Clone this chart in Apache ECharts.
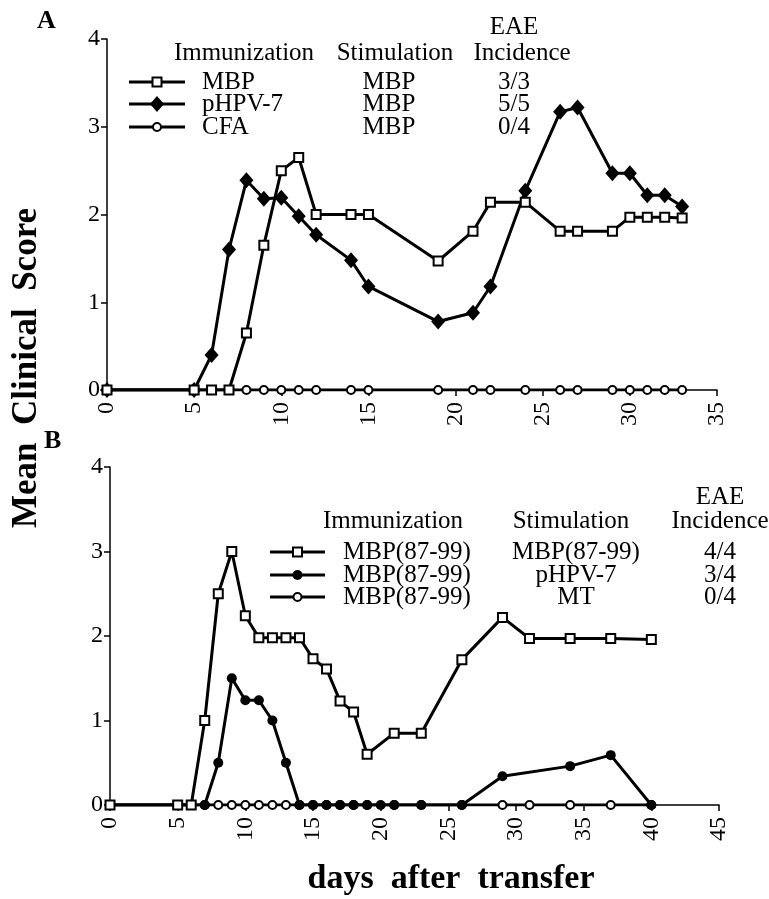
<!DOCTYPE html>
<html>
<head>
<meta charset="utf-8">
<script src="https://cdn.jsdelivr.net/npm/echarts@6/dist/echarts.min.js"></script>
<style>
html,body{margin:0;padding:0;background:#fff;}
#chart{width:769px;height:899px;}
</style>
</head>
<body>
<div id="chart"></div>
<script>
// ---------- Panel A data ----------
const daysA = [0,5,6,7,8,9,10,11,12,14,15,19,21,22,24,26,27,29,30,31,32,33];
const mbpA  = [0,0,0,0,0.65,1.65,2.5,2.65,2.0,2.0,2.0,1.47,1.81,2.14,2.14,1.81,1.81,1.81,1.97,1.97,1.97,1.96];
const hpvA  = [0,0,0.4,1.6,2.39,2.18,2.19,1.98,1.77,1.48,1.18,0.78,0.88,1.18,2.27,3.17,3.22,2.47,2.47,2.22,2.22,2.09];
const cfaA  = [0,0,0,0,0,0,0,0,0,0,0,0,0,0,0,0,0,0,0,0,0,0];

// ---------- Panel B data ----------
const daysB_mbp = [0,5,6,7,8,9,10,11,12,13,14,15,16,17,18,19,21,23,26,29,31,34,37,40];
const mbpB      = [0,0,0,1.0,2.5,3.0,2.24,1.98,1.98,1.98,1.98,1.73,1.61,1.23,1.10,0.60,0.85,0.85,1.72,2.22,1.97,1.97,1.97,1.96];
const daysB_hpv = [0,5,6,7,8,9,10,11,12,13,14,15,16,17,18,19,20,21,23,26,29,34,37,40];
const hpvB      = [0,0,0,0,0.5,1.5,1.24,1.24,1.0,0.5,0,0,0,0,0,0,0,0,0,0,0.34,0.46,0.59,0];
const daysB_mt  = [0,5,6,7,8,9,10,11,12,13,14,15,16,17,18,19,21,23,26,29,31,34,37,40];
const mtB       = [0,0,0,0,0,0,0,0,0,0,0,0,0,0,0,0,0,0,0,0,0,0,0,0];

// ---------- Axis ticks ----------
const xTicksA = [0,5,10,15,20,25,30,35];
const xTicksB = [0,5,10,15,20,25,30,35,40,45];
const yTicks  = [0,1,2,3,4];

// ---------- Legend texts ----------
const headerCols = ['Immunization','Stimulation','Incidence'];
const headerTop = 'EAE';
const immA  = ['MBP','pHPV-7','CFA'];
const stimA = ['MBP','MBP','MBP'];
const incA  = ['3/3','5/5','0/4'];
const immB  = ['MBP(87-99)','MBP(87-99)','MBP(87-99)'];
const stimB = ['MBP(87-99)','pHPV-7','MT'];
const incB  = ['4/4','3/4','0/4'];
const yName = 'Mean  Clinical  Score';
const xName = 'days  after  transfer';
const panelLabels = ['A','B'];

const FONT = '"Liberation Serif","Times New Roman",serif';
const pairs = (xs, ys) => xs.map((x, i) => [x, ys[i]]);

function xAxisCfg(gi, ticks) {
  return {
    type: 'value', gridIndex: gi, min: ticks[0], max: ticks[ticks.length - 1], interval: 5,
    splitLine: {show: false},
    axisLine: {lineStyle: {color: '#000', width: 1.5}},
    axisTick: {inside: false, length: 6, lineStyle: {color: '#000', width: 1.5}},
    axisLabel: {rotate: 90, margin: 12, color: '#000', fontFamily: FONT, fontSize: 24,
      showMinLabel: true, showMaxLabel: true, hideOverlap: false}
  };
}
function yAxisCfg(gi) {
  return {
    type: 'value', gridIndex: gi, min: yTicks[0], max: yTicks[yTicks.length - 1], interval: 1,
    splitLine: {show: false},
    axisLine: {show: true, lineStyle: {color: '#000', width: 1.5}},
    axisTick: {show: true, inside: false, length: 6, lineStyle: {color: '#000', width: 1.5}},
    axisLabel: {margin: 7, color: '#000', fontFamily: FONT, fontSize: 24,
      showMinLabel: true, showMaxLabel: true}
  };
}

const sqStyle = {symbol: 'rect', symbolSize: 9, itemStyle: {color: '#fff', borderColor: '#000', borderWidth: 2}};
const ciStyle = {symbol: 'circle', symbolSize: 8, itemStyle: {color: '#fff', borderColor: '#000', borderWidth: 2}};
const diStyle = {symbol: 'diamond', symbolSize: [14, 16], itemStyle: {color: '#000', borderColor: '#000', borderWidth: 0}};
const fcStyle = {symbol: 'circle', symbolSize: 10, itemStyle: {color: '#000', borderColor: '#000', borderWidth: 0}};

function lineSeries(name, xi, data, sty, z) {
  return Object.assign({
    type: 'line', name: name, xAxisIndex: xi, yAxisIndex: xi, data: data,
    showAllSymbol: true, animation: false, z: z,
    lineStyle: {color: '#000', width: 3},
    emphasis: {disabled: true}
  }, sty);
}

// ---------- Legend graphics ----------
function symbolEl(kind, cx, cy) {
  if (kind === 'sq') return {type: 'rect', shape: {x: cx - 4.5, y: cy - 4.5, width: 9, height: 9}, style: {fill: '#fff', stroke: '#000', lineWidth: 2}, z: 20};
  if (kind === 'di') return {type: 'polygon', shape: {points: [[cx, cy - 8], [cx + 7, cy], [cx, cy + 8], [cx - 7, cy]]}, style: {fill: '#000'}, z: 20};
  if (kind === 'ci') return {type: 'circle', shape: {cx: cx, cy: cy, r: 4}, style: {fill: '#fff', stroke: '#000', lineWidth: 2}, z: 20};
  return {type: 'circle', shape: {cx: cx, cy: cy, r: 5}, style: {fill: '#000'}, z: 20};
}
function txt(text, x, y, align, size, bold, rot) {
  return {type: 'text', x: x, y: y, rotation: rot || 0, z: 20,
    style: {text: text, fill: '#000', font: (bold ? 'bold ' : '') + size + 'px ' + FONT,
      textAlign: align, textVerticalAlign: 'middle'}};
}
function legendBlock(cfg) {
  const els = [];
  els.push(txt(headerTop, cfg.c3, cfg.hy1, 'center', 25));
  els.push(txt(headerCols[0], cfg.h1, cfg.hy2, 'center', 25));
  els.push(txt(headerCols[1], cfg.h2, cfg.hy2, 'center', 25));
  els.push(txt(headerCols[2], cfg.c3h, cfg.hy2, 'center', 25));
  cfg.rows.forEach((ry, i) => {
    els.push({type: 'line', shape: {x1: cfg.lx1, y1: ry, x2: cfg.lx2, y2: ry}, style: {stroke: '#000', lineWidth: 3}, z: 19});
    els.push(symbolEl(cfg.kinds[i], (cfg.lx1 + cfg.lx2) / 2, ry));
    els.push(txt(cfg.imm[i], cfg.t1, ry, 'left', 25));
    els.push(txt(cfg.stim[i], cfg.c2, ry, 'center', 25));
    els.push(txt(cfg.inc[i], cfg.c3, ry, 'center', 25));
  });
  return els;
}

const graphics = [].concat(
  legendBlock({hy1: 27, hy2: 53, h1: 244, h2: 395, c3h: 522, c3: 514, rows: [82, 104, 127],
    lx1: 129, lx2: 185, t1: 202, c2: 389, kinds: ['sq', 'di', 'ci'], imm: immA, stim: stimA, inc: incA}),
  legendBlock({hy1: 497, hy2: 521, h1: 393, h2: 571, c3h: 720, c3: 720, rows: [552, 575, 597],
    lx1: 270, lx2: 325, t1: 343, c2: 576, kinds: ['sq', 'fc', 'ci'], imm: immB, stim: stimB, inc: incB}),
  [
    txt(panelLabels[0], 37, 21, 'left', 26, true),
    txt(panelLabels[1], 44, 441, 'left', 26, true),
    txt(yName, 27, 368, 'center', 35, true, Math.PI / 2),
    txt(xName, 451, 879, 'center', 34, true)
  ]
);

const chart = echarts.init(document.getElementById('chart'), null, {renderer: 'canvas'});
chart.setOption({
  animation: false,
  backgroundColor: '#fff',
  grid: [
    {left: 107, width: 610, top: 39, height: 351, containLabel: false, outerBoundsMode: 'none'},
    {left: 110, width: 609, top: 467, height: 338, containLabel: false, outerBoundsMode: 'none'}
  ],
  xAxis: [xAxisCfg(0, xTicksA), xAxisCfg(1, xTicksB)],
  yAxis: [yAxisCfg(0), yAxisCfg(1)],
  series: [
    lineSeries('CFA', 0, pairs(daysA, cfaA), ciStyle, 2),
    lineSeries('pHPV-7', 0, pairs(daysA, hpvA), diStyle, 3),
    lineSeries('MBP', 0, pairs(daysA, mbpA), sqStyle, 4),
    lineSeries('MBP(87-99) / MT', 1, pairs(daysB_mt, mtB), ciStyle, 2),
    lineSeries('MBP(87-99) / pHPV-7', 1, pairs(daysB_hpv, hpvB), fcStyle, 3),
    lineSeries('MBP(87-99) / MBP(87-99)', 1, pairs(daysB_mbp, mbpB), sqStyle, 4)
  ],
  graphic: graphics
});
</script>
</body>
</html>
